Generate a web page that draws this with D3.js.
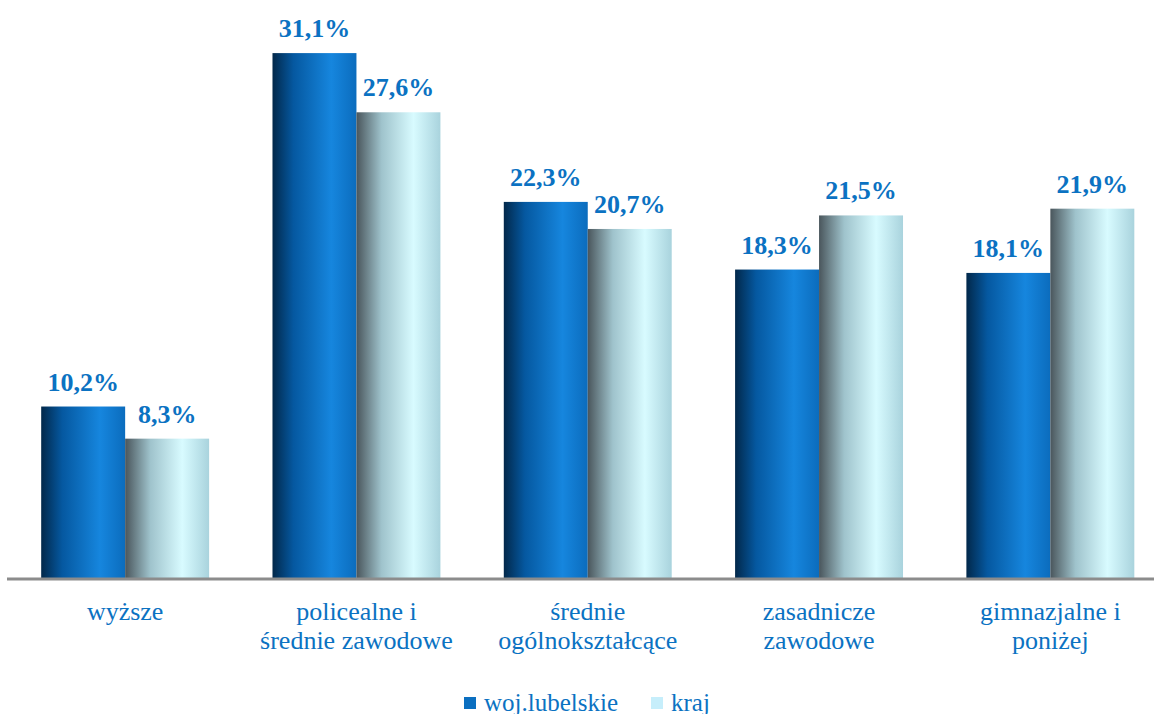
<!DOCTYPE html>
<html>
<head>
<meta charset="utf-8">
<script src="https://cdn.jsdelivr.net/npm/d3@7"></script>
</head>
<body style="margin:0">
<script>
// data
var categories = [
  ["wyższe"],
  ["policealne i", "średnie zawodowe"],
  ["średnie", "ogólnokształcące"],
  ["zasadnicze", "zawodowe"],
  ["gimnazjalne i", "poniżej"]
];
var seriesNames = ["woj.lubelskie", "kraj"];
var lubelskie = [10.2, 31.1, 22.3, 18.3, 18.1];
var kraj = [8.3, 27.6, 20.7, 21.5, 21.9];

var width = 1154, height = 714;
var baseY = 579;
var blue = "#0b72c2";
var serif = "'Liberation Serif', 'Times New Roman', Tinos, monospace";

var svg = d3.select("body").append("svg")
  .attr("width", width)
  .attr("height", height);

// gradients for the "cylinder" look
var defs = svg.append("defs");
var g1 = defs.append("linearGradient").attr("id", "gradA")
  .attr("x1", "0%").attr("x2", "100%").attr("y1", "0%").attr("y2", "0%");
[[0, "#02284a"], [0.25, "#0558a0"], [0.7, "#1686de"], [1, "#0b6cbd"]].forEach(function(s) {
  g1.append("stop").attr("offset", s[0]).attr("stop-color", s[1]);
});
var g2 = defs.append("linearGradient").attr("id", "gradB")
  .attr("x1", "0%").attr("x2", "100%").attr("y1", "0%").attr("y2", "0%");
[[0, "#4a565c"], [0.3, "#9fc3cc"], [0.68, "#d8fbff"], [1, "#a9d3dd"]].forEach(function(s) {
  g2.append("stop").attr("offset", s[0]).attr("stop-color", s[1]);
});
var fills = ["url(#gradA)", "url(#gradB)"];

var x0 = d3.scaleBand()
  .domain(d3.range(categories.length))
  .range([9.5, 1166])
  .paddingInner(0.274)
  .paddingOuter(0.137);

var x1 = d3.scaleBand()
  .domain([0, 1])
  .range([0, x0.bandwidth()]);

var y = d3.scaleLinear()
  .domain([0, 34])
  .range([baseY, baseY - 34 * 16.91]);

var rows = categories.map(function(c, i) {
  return [lubelskie[i], kraj[i]];
});

var groups = svg.append("g").selectAll("g")
  .data(rows)
  .enter().append("g")
  .attr("transform", function(d, i) { return "translate(" + x0(i) + ",0)"; });

groups.selectAll("rect")
  .data(function(d) { return d; })
  .enter().append("rect")
  .attr("x", function(d, j) { return x1(j); })
  .attr("y", function(d) { return y(d); })
  .attr("width", x1.bandwidth())
  .attr("height", function(d) { return baseY - y(d); })
  .attr("fill", function(d, j) { return fills[j]; });

groups.selectAll("text.val")
  .data(function(d) { return d; })
  .enter().append("text")
  .attr("class", "val")
  .attr("x", function(d, j) { return x1(j) + x1.bandwidth() / 2; })
  .attr("y", function(d) { return y(d) - 16; })
  .attr("text-anchor", "middle")
  .attr("fill", blue)
  .style("font-family", serif, "important")
  .style("font-size", "26px")
  .style("font-weight", "bold")
  .text(function(d) { return d3.format(".1f")(d).replace(".", ",") + "%"; });

// axis line
svg.append("line")
  .attr("x1", 7).attr("x2", width)
  .attr("y1", baseY).attr("y2", baseY)
  .attr("stroke", "#8c8c8c")
  .attr("stroke-width", 3);

// category labels
var catLabels = svg.append("g").selectAll("text")
  .data(categories)
  .enter().append("text")
  .attr("text-anchor", "middle")
  .attr("fill", blue)
  .style("font-family", serif, "important")
  .style("font-size", "26px")
  .attr("transform", function(d, i) {
    return "translate(" + (x0(i) + x0.bandwidth() / 2) + ",620)";
  });

catLabels.selectAll("tspan")
  .data(function(d) { return d; })
  .enter().append("tspan")
  .attr("x", 0)
  .attr("dy", function(d, k) { return k === 0 ? 0 : 29; })
  .text(function(d) { return d; });

// legend
var legendX = [464, 651];
var legend = svg.append("g").selectAll("g")
  .data(seriesNames)
  .enter().append("g")
  .attr("transform", function(d, i) { return "translate(" + legendX[i] + ",697)"; });

legend.append("rect")
  .attr("width", 12).attr("height", 12)
  .attr("fill", function(d, i) { return i === 0 ? "#0b6fc0" : "#c6eefb"; });

legend.append("text")
  .attr("x", 20).attr("y", 14)
  .attr("fill", blue)
  .style("font-family", serif, "important")
  .style("font-size", "25px")
  .text(function(d) { return d; });
</script>
</body>
</html>
